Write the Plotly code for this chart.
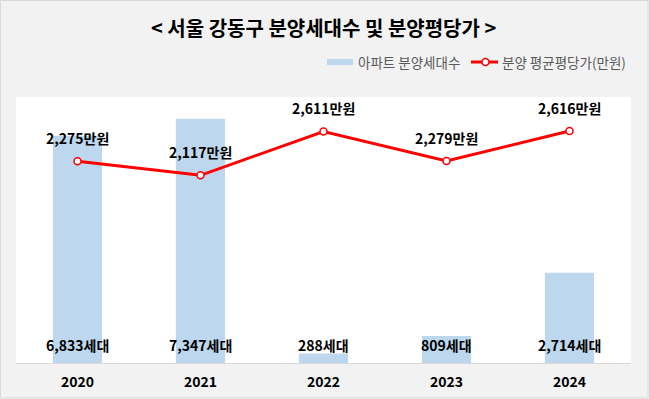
import plotly.graph_objects as go

years = ["2020", "2021", "2022", "2023", "2024"]
units = [6833, 7347, 288, 809, 2714]
price = [2275, 2117, 2611, 2279, 2616]
bar_name = "아파트 분양세대수"
line_name = "분양 평균평당가(만원)"
title_text = "< 서울 강동구 분양세대수 및 분양평당가 >"

FONT = "Noto Sans CJK KR"
BAR_C = "#bdd7ee"
LINE_C = "#ff0000"

# plot area in pixels (for legend placement helpers)
L, R, T, B = 16, 631, 97, 363
W, H = R - L, B - T
def px(x):
    return (x - L) / W
def py(y):
    return (B - y) / H

fig = go.Figure()
fig.add_trace(go.Bar(
    x=years, y=units, name=bar_name,
    marker=dict(color=BAR_C, line=dict(width=0)),
    width=0.4, yaxis="y", showlegend=False,
))
fig.add_trace(go.Scatter(
    x=years, y=price, name=line_name,
    mode="lines+markers", yaxis="y2", showlegend=False,
    line=dict(color=LINE_C, width=3),
    marker=dict(size=7, color="white", line=dict(color=LINE_C, width=1.5)),
))

annotations = []
# on a category axis, annotation x is the category's index
for i, u in enumerate(units):
    annotations.append(dict(
        x=i, y=0, xref="x", yref="y", yanchor="bottom", yshift=6,
        text=f"<b>{u:,}세대</b>", showarrow=False,
        font=dict(family=FONT, size=14, color="black"),
    ))
for i, p in enumerate(price):
    annotations.append(dict(
        x=i, y=p, xref="x", yref="y2", yanchor="bottom", yshift=11,
        text=f"<b>{p:,}만원</b>", showarrow=False,
        font=dict(family=FONT, size=14, color="black"),
    ))

# manual legend
annotations.append(dict(
    x=px(356), y=py(62), xref="paper", yref="paper", xanchor="left", yanchor="middle",
    text=bar_name, showarrow=False, font=dict(family=FONT, size=13.5, color="#595959"),
))
annotations.append(dict(
    x=px(500), y=py(62), xref="paper", yref="paper", xanchor="left", yanchor="middle",
    text=line_name, showarrow=False, font=dict(family=FONT, size=13.5, color="#595959"),
))
# title
annotations.append(dict(
    x=0.5, y=py(27), xref="paper", yref="paper", xanchor="center", yanchor="middle",
    text=f"<b>{title_text}</b>", showarrow=False, font=dict(family=FONT, size=20, color="black"),
))

shapes = [
    dict(type="rect", xref="paper", yref="paper",
         x0=px(0.5), x1=px(648), y0=py(398), y1=py(0.5),
         line=dict(color="#d9d9d9", width=1), fillcolor="rgba(0,0,0,0)", layer="below"),
    dict(type="rect", xref="paper", yref="paper",
         x0=px(327), x1=px(353), y0=py(65), y1=py(59),
         line=dict(width=0), fillcolor=BAR_C),
    dict(type="line", xref="paper", yref="paper",
         x0=px(471), x1=px(498), y0=py(62), y1=py(62),
         line=dict(color=LINE_C, width=3)),
    dict(type="circle", xref="paper", yref="paper",
         x0=px(482), x1=px(489), y0=py(65.5), y1=py(58.5),
         line=dict(color=LINE_C, width=1.5), fillcolor="white"),
]

fig.update_layout(
    width=649, height=399,
    margin=dict(l=L, r=649 - R, t=T, b=399 - B, autoexpand=False),
    paper_bgcolor="#f2f2f2", plot_bgcolor="white",
    font=dict(family=FONT),
    showlegend=False,
    hovermode=False,
    xaxis=dict(
        type="category",
        showgrid=False, showline=True, linecolor="#d9d9d9", linewidth=1,
        ticks="", tickfont=dict(family=FONT, size=14, color="black"),
        tickprefix="<b>", ticksuffix="</b>", ticklabelstandoff=6,
    ),
    yaxis=dict(range=[0, 8000], visible=False, showgrid=False),
    yaxis2=dict(range=[0, 3000], visible=False, showgrid=False,
                overlaying="y", side="right"),
    annotations=annotations,
    shapes=shapes,
)

fig.write_html("out.html", config={"displayModeBar": False},
               post_script="document.body.style.margin='0';")
